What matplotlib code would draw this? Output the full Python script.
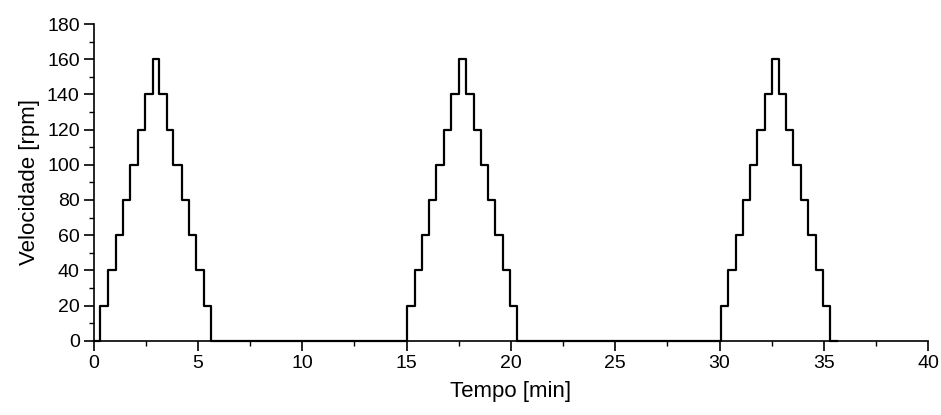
import matplotlib
matplotlib.use("Agg")
import matplotlib.pyplot as plt
from matplotlib.ticker import MultipleLocator

plt.rcParams['font.family'] = ['Liberation Sans', 'DejaVu Sans']

# Step profile (time in min, speed in rpm; value holds until next time)
tempo = [0.00, 0.31, 0.68, 1.06, 1.39, 1.75, 2.15, 2.47, 2.84, 3.15, 3.52, 3.83, 4.23, 4.58, 4.92, 5.27, 5.63,
         15.00, 15.39, 15.74, 16.09, 16.43, 16.78, 17.15, 17.53, 17.87, 18.22, 18.57, 18.91, 19.26, 19.61, 19.94, 20.30,
         30.05, 30.42, 30.77, 31.12, 31.47, 31.81, 32.16, 32.53, 32.85, 33.20, 33.54, 33.89, 34.24, 34.61, 34.96, 35.28,
         35.64]
velocidade = [0, 20, 40, 60, 80, 100, 120, 140, 160, 140, 120, 100, 80, 60, 40, 20, 0,
              20, 40, 60, 80, 100, 120, 140, 160, 140, 120, 100, 80, 60, 40, 20, 0,
              20, 40, 60, 80, 100, 120, 140, 160, 140, 120, 100, 80, 60, 40, 20, 0,
              0]

x_ticks = [0, 5, 10, 15, 20, 25, 30, 35, 40]
y_ticks = [0, 20, 40, 60, 80, 100, 120, 140, 160, 180]

fig = plt.figure(figsize=(9.41, 4.15), dpi=100)
ax = fig.add_axes([0.0994, 0.179, 0.887, 0.763])

ax.step(tempo, velocidade, where='post', color='black', linewidth=1.6, clip_on=False, zorder=3)

ax.set_xlim(0, 40)
ax.set_ylim(0, 180)
ax.set_xticks(x_ticks)
ax.set_yticks(y_ticks)
ax.xaxis.set_minor_locator(MultipleLocator(2.5))
ax.yaxis.set_minor_locator(MultipleLocator(10))

for s in ['top', 'right']:
    ax.spines[s].set_visible(False)
for s in ['left', 'bottom']:
    ax.spines[s].set_linewidth(1.2)

ax.tick_params(which='major', direction='out', length=7, width=1.2, labelsize=14, pad=3, colors='black')
ax.tick_params(which='minor', direction='out', length=3.5, width=1.0)

ax.set_xlabel('Tempo [min]', fontsize=16, labelpad=7)
ax.set_ylabel('Velocidade [rpm]', fontsize=16, labelpad=5)

fig.savefig('out.png', dpi=100)
